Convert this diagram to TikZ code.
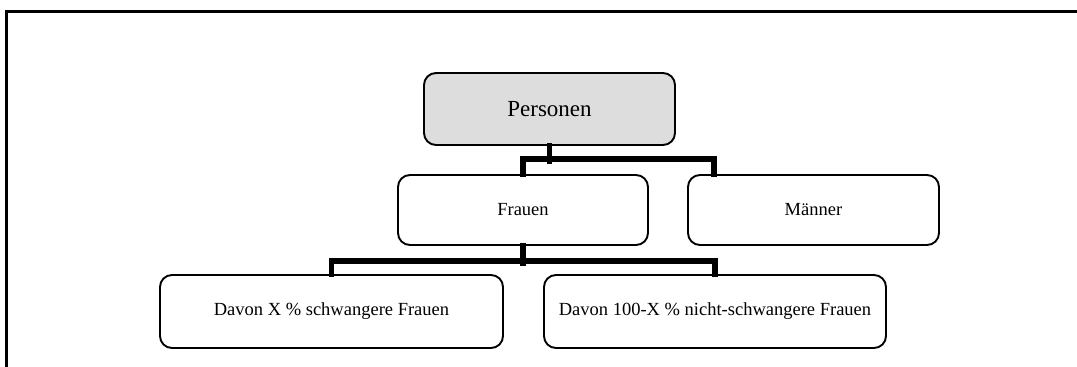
\documentclass[tikz,border=0pt]{standalone}
\usepackage{xcolor}
\usepackage{fontspec}
\setmainfont{Liberation Serif}
\usepackage{tikz}
\definecolor{persgray}{RGB}{221,221,221}
\tikzstyle{box} = [draw, rounded corners=12pt, line width=1.9pt,
    inner sep=0pt, align=center, font=\fontsize{18.5}{22}\selectfont]
\tikzstyle{conn} = [line width=5.5pt, line join=miter, line cap=rect]

\begin{document}
\begin{tikzpicture}[x=1pt,y=-1pt]
  \useasboundingbox (0,0) rectangle (1077,367);
  \draw[line width=2.2pt] (1077,11.5)--(6.5,11.5)--(6.5,367);

  \draw (549.5,109) node[box,fill=persgray,minimum width=251pt,minimum height=72pt,font=\fontsize{23}{27}\selectfont] (pers) {Personen};
  \draw (523,210) node[box,minimum width=250pt,minimum height=70pt] (frauen) {Frauen};
  \draw (813.5,210) node[box,minimum width=251pt,minimum height=70pt] (maenner) {M\"anner};
  \draw (331.5,311.5) node[box,minimum width=343pt,minimum height=73pt] (schw) {Davon X \% schwangere Frauen};
  \draw (715,311.5) node[box,minimum width=342pt,minimum height=73pt] (nschw) {Davon 100-X \% nicht-schwangere Frauen};

  \draw[conn] (pers.south)--++(0,15);
  \draw[conn] (frauen.north)--++(0,-15)-|([xshift=-99.5pt]maenner.north);
  \draw[conn] (frauen.south)--++(0,17);
  \draw[conn] (schw.north)--++(0,-13)-|(nschw.north);
\end{tikzpicture}
\end{document}
